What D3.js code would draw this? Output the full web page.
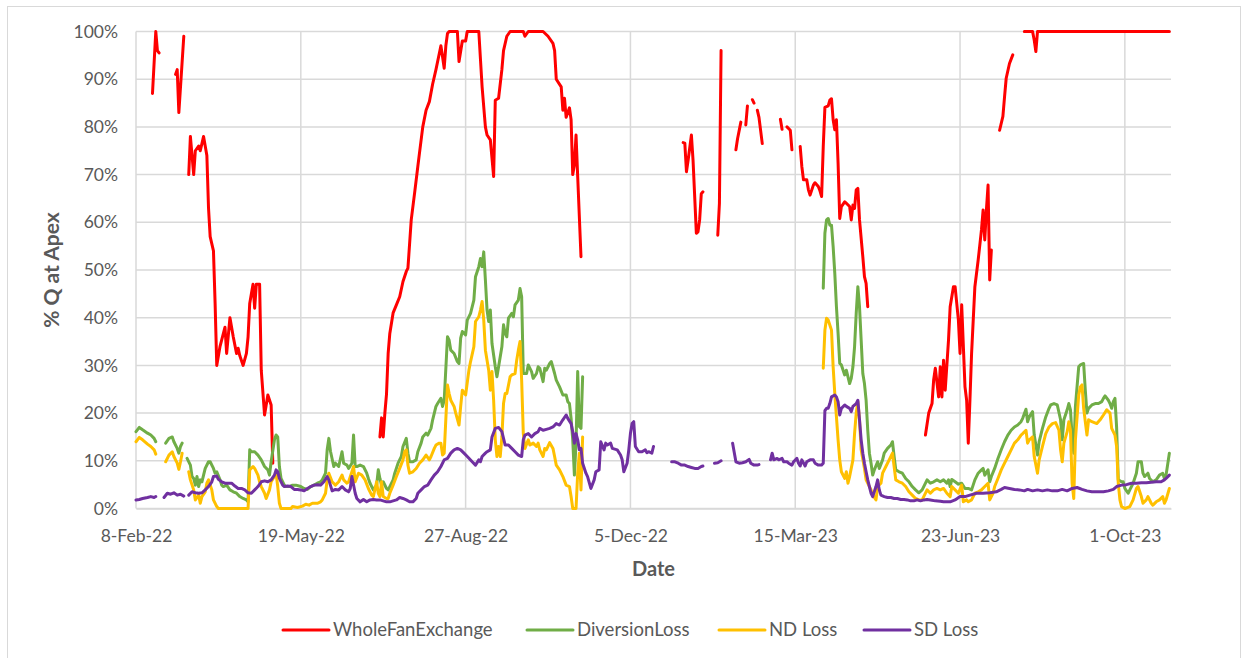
<!DOCTYPE html>
<html>
<head>
<meta charset="utf-8">
<script src="https://cdn.jsdelivr.net/npm/d3@7"></script>
<style>
  html, body { margin: 0; padding: 0; background: #fff; }
  svg { display: block; font-family: Lato, "Open Sans", sans-serif; }
</style>
</head>
<body>
<svg id="chart" width="1244" height="658"></svg>
<script>
// ---- data (day offset from 8-Feb-22, fraction of Q); null = gap ----
const startDate = "2022-02-08";
const endDay = 628;
const xTickLabels = ["8-Feb-22","19-May-22","27-Aug-22","5-Dec-22","15-Mar-23","23-Jun-23","1-Oct-23"];
const yTicks = [0,0.1,0.2,0.3,0.4,0.5,0.6,0.7,0.8,0.9,1.0];
const seriesNames = ["WholeFanExchange","DiversionLoss","ND Loss","SD Loss"];
const seriesColors = ["#FF0000","#70AD47","#FFC000","#7030A0"];

const wholeFanExchange = [
 [10,87],[12,100],[13,96],[14,95.5],null,
 [24,91],[25,92],[26,83],[29,99],null,
 [32,70],[33,78],[35,70],[36,75],[38,76],[39,75],[41,78],[43,74],[44,63],[45,57],[47,54],[48,43],[49,30],[51,34],[54,38],[55,32.5],[57,40],[59,36],[61,32.5],[62,33.6],[63,32],[65,30],[67,32.5],[68,36],[69,43],[71,47],[72,42],[73,47],[75,47],[76,29],[78,19.6],[80,23.8],[82,21.7],[83,9.5],null,
 [148,15],[149,19],[150,15],[151,20],[152,24],[153,32.5],[154,36.7],[156,41],[158,42.7],[160,44.4],[162,47.6],[164,49.7],[165,50.4],[167,60.5],[169,66],[171,71.7],[172,74.5],[174,80],[176,83.5],[178,85.3],[180,89],[182,92],[185,97],[186,94.7],[187,92.3],[188,97],[189,99.6],[190,100],[195,100],[196,93.7],[198,98],[200,98],[201,100],[208,100],[210,88.4],[212,80],[213,78.3],[215,77.3],[217,69.6],[218,85.6],[220,86],[222,92],[223,96],[225,99],[227,100],[235,100],[236,99],[238,100],[247,100],[250,99],[253,97.5],[254,96],[255,90],[258,88.4],[259,83.5],[260,86],[261,82],[263,84],[264,81.5],[265,70],[266,72],[267,78.3],[268,69.6],[270,52.8],null,
 [332,76.7],[333,76.6],[334,70.6],[335,73],[337,78.3],[338,73],[340,57.7],[341,58],[342,60.5],[343,66],[344,66.4],null,
 [353,57.3],[354,64],[355,96],null,
 [364,75.2],[365,77.5],[367,81],null,
 [370,80.4],[371,84.4],null,
 [374,85.7],[375,85],null,
 [377,83.5],[378,82],[380,76.5],null,
 [391,81.6],[392,79.5],null,
 [395,80],[397,79.3],[398,75.2],null,
 [403,75.9],[404,71.7],[405,68.9],[407,68.9],[408,66.8],[409,65.7],[411,67.8],[412,68.3],[414,67.5],[415,66.6],[416,65.4],[417,75.9],[418,84.1],[420,84.4],[421,85.6],[422,85.9],[423,81.5],[424,79.4],[425,81.5],[426,72.4],[427,60.8],[428,63.3],[430,64.3],[431,64],[433,63.3],[434,60.5],[435,63.6],[436,62.9],[437,66.8],[438,67.1],[439,60.5],[441,52.8],[442,48.6],[443,47.2],[444,42.3],null,
 [479,15.4],[481,20],[483,22],[484,27],[485,29.4],[487,23.4],[488,29.7],[489,23.4],[490,31.1],[491,24.8],[493,35.3],[494,42.3],[496,46.5],[497,46.5],[499,39.5],[500,32.5],[501,42.7],[503,25.5],[504,22.7],[505,13.7],[506,22.7],[507,32.5],[509,46.5],[511,52.1],[513,58.4],[514,62.6],[515,56.3],[516,62.6],[517,67.8],[518,47.9],[519,54.2],null,
 [524,79.3],[526,82.2],[527,86.3],[528,90.2],[530,93.3],[532,95.1],null,
 [539,100],[544,100],[545,98.2],[546,95.8],[547,100],[627,100]
];

const diversionLoss = [
 [0,16.1],[2,17],[4,16.5],[7,15.8],[9,15.4],[11,14.7],[12,14],null,
 [18,13.7],[20,14.7],[22,15],[23,14],[25,12.6],[26,11.6],[27,13],[28,13.7],null,
 [31,10.5],[33,9.1],[34,6.7],[35,6.3],[36,4.9],[37,6.7],[38,4.6],[39,6],[40,5.6],[41,7],[42,8.4],[44,9.8],[45,9.8],[47,8.4],[48,7.4],[49,7.7],[51,6],[52,4.9],[53,4.6],[55,4.9],[57,3.9],[59,3.5],[61,3.2],[63,2.5],[65,2.1],[67,1.8],[68,1.4],[69,12.3],[70,11.9],[72,11.9],[74,11.2],[76,10.2],[78,8.8],[80,8.1],[81,7],[82,9.8],[84,14.4],[85,15.4],[86,15],[87,8.8],[88,6.3],[90,4.9],[91,4.6],[93,4.6],[95,4.9],[97,4.9],[100,4.6],[102,4.2],[104,4],[106,4.6],[108,4.9],[110,5.3],[112,5.6],[113,6],[115,7.4],[116,12.3],[117,14.7],[118,12],[120,8.8],[121,9.5],[123,8.8],[125,11.9],[126,9.5],[128,9.1],[129,8.4],[131,9.5],[132,15.4],[133,8.8],[134,8.8],[136,9.1],[138,8.8],[140,7.4],[141,6.3],[142,5.3],[144,3.9],[146,4.9],[147,8.1],[148,6.3],[149,4.9],[150,5.6],[152,4.2],[153,3.9],[154,4.6],[156,6],[157,7.4],[159,9.5],[161,10.9],[162,13],[164,14.7],[165,11.6],[166,9.8],[168,9.8],[170,10.2],[171,11.9],[173,13.7],[174,15],[176,15.8],[177,15.4],[179,16.8],[180,18.6],[182,21.4],[183,22],[185,23.1],[186,21.4],[187,22.7],[189,36],[190,35.3],[191,33.2],[193,32.5],[195,30.8],[196,30.4],[197,35.7],[198,37.1],[200,36.4],[201,39.5],[203,40.9],[205,43.7],[206,48.6],[208,50.7],[209,52.4],[210,50.7],[211,53.8],[212,47.9],[213,41.6],[214,39.2],[215,41.6],[216,34.6],[218,29.7],[219,27.6],[220,29.7],[222,33.9],[223,38.5],[224,36.7],[225,36],[226,39.9],[228,40.9],[229,40.2],[230,42.7],[232,43.7],[233,46.1],[234,44.4],[235,28.3],[237,28.3],[238,30.1],[240,28.7],[241,27.3],[243,28.3],[244,29.7],[245,29.4],[247,26.6],[248,29.4],[249,29],[251,30.4],[252,30.8],[254,28.3],[255,26.9],[257,25.5],[259,23.8],[261,23.8],[262,22.4],[263,22],[264,18.9],[265,14.4],[266,7],[267,13.7],[268,28.7],[269,17.2],[270,16.8],[271,27.6],null,
 [417,46.2],[418,57.7],[419,60.5],[420,60.8],[421,59.4],[422,59.4],[423,54.9],[424,49.3],[425,42.3],[426,36.7],[427,30.4],[428,30.1],[430,28],[431,29],[433,26.2],[434,27.3],[435,29.7],[436,33.9],[437,40.9],[438,46.5],[439,42.3],[440,35.3],[441,28.3],[442,26.2],[443,22.7],[444,16.4],[445,11.6],[446,9.5],[447,7],[448,8.1],[450,9.8],[451,8.4],[453,10.2],[454,11.6],[456,12.6],[458,13.3],[459,14],[460,10.9],[461,8.1],[463,7.7],[465,7.4],[467,6.3],[469,5.6],[471,4.6],[473,3.9],[475,3.3],[477,3.9],[480,6],[482,5.3],[484,5.6],[486,6],[488,5.6],[490,6],[492,5.3],[493,6],[494,4.6],[495,6.1],[497,5.6],[499,5.1],[501,5.3],[503,4.2],[505,4.2],[507,3.9],[509,6],[511,7.4],[513,8.1],[514,8.4],[515,7],[517,8.1],[518,5.6],[519,6.7],[521,8.4],[523,10.5],[525,12.3],[527,14],[529,15.4],[531,16.4],[533,17.1],[535,17.5],[537,18.2],[538,18.9],[540,20.8],[541,18.2],[542,19.2],[544,20.3],[545,15.4],[547,11.2],[548,14],[550,16.8],[552,19.2],[554,21],[555,21.7],[557,22],[559,21.7],[561,18.6],[562,14.4],[563,18.6],[565,20.7],[566,22],[567,20.7],[568,15],[569,11.6],[570,21.4],[572,29.7],[573,30.1],[575,30.4],[576,24.8],[577,20],[578,21],[580,21.7],[582,22],[584,22],[586,22.4],[587,23.1],[588,23.6],[590,22.7],[591,22],[592,21],[593,22.4],[594,23.1],[595,17],[596,6],[598,5.6],[599,5.6],[600,4.2],[602,3.2],[603,3.9],[605,5.3],[607,7.4],[608,9.8],[610,9.8],[611,7.4],[612,6.7],[614,7.4],[615,6.3],[617,5.6],[619,6],[621,7],[623,7.4],[624,6.3],[625,7],[627,11.6]
];

const ndLoss = [
 [0,14],[2,14.9],[4,14.4],[7,13.5],[9,13],[11,12.3],[12,11.4],null,
 [18,9.8],[20,11.2],[22,11.9],[23,10.9],[25,9.5],[26,8.2],[27,9.8],[28,11.6],null,
 [32,7.7],[33,6],[35,3.9],[36,1.8],[38,2.8],[39,1.1],[40,2.5],[42,3.5],[43,5.3],[44,6],[46,3.9],[47,1.8],[49,0.4],[50,0],[68,0],[69,8.1],[71,8.8],[72,8.4],[74,7],[75,5.6],[76,4.6],[78,3.2],[79,2.1],[81,3.9],[82,5.6],[84,6.7],[85,7.4],[86,4.6],[87,1.1],[88,0],[94,0],[95,0.4],[98,0.2],[101,0.5],[103,0.9],[105,0.7],[107,1.1],[110,1.1],[112,1.4],[113,1.8],[115,3.2],[116,6],[117,7.4],[119,5.6],[121,4.9],[123,5.6],[125,7],[126,6],[128,5.3],[129,5.6],[131,7.7],[132,8.8],[133,5.6],[135,7.4],[137,7],[139,6],[141,4.2],[143,2.8],[144,2.5],[146,5.6],[147,3.2],[148,2.5],[149,5.6],[150,2.5],[152,2.1],[153,2.1],[154,3.2],[156,4.9],[158,6.7],[160,8.4],[162,10.2],[163,11.9],[164,12.3],[165,9.1],[166,7.4],[168,7.7],[170,8.4],[172,9.5],[174,10.2],[176,11.2],[178,10.2],[179,10.9],[181,12.6],[182,13.3],[184,13.7],[185,13.7],[186,11.2],[187,11.6],[189,25.9],[190,24.1],[191,22.7],[193,21.4],[194,20],[196,17.5],[197,21.4],[198,24.8],[200,23.8],[202,29],[203,30.8],[205,33.9],[206,39.2],[208,40.2],[209,41.6],[210,43.4],[211,39.5],[212,33.2],[214,29],[215,24.8],[216,28.7],[217,22.7],[218,14.4],[219,10.9],[220,13],[221,10.9],[222,15],[223,22],[224,24.1],[225,24.1],[227,27.6],[228,28],[230,28.3],[231,31.1],[232,33.2],[233,35],[234,26.9],[235,15.7],[236,12.6],[238,14.4],[239,13.3],[241,13.7],[243,13],[244,13.7],[245,12.3],[247,10.9],[248,12.6],[249,12.3],[251,13.8],[253,12.6],[254,10.9],[255,9.1],[257,8.1],[259,6.7],[261,4.9],[263,4.6],[264,2.5],[265,0],[267,0],[268,7.4],[269,11.6],[270,3.9],[271,15],null,
 [417,29.4],[418,37.4],[419,39.9],[420,39.5],[422,37.4],[423,29.7],[424,24.1],[425,19.2],[426,14.4],[427,10.2],[428,7.7],[430,6.3],[431,7.7],[432,5.3],[433,6.7],[435,10.2],[436,15.7],[437,20],[438,22.4],[439,18.6],[440,12.3],[442,8.4],[443,6],[445,4.6],[446,3.9],[447,2.8],[449,1.8],[450,4.6],[452,5.3],[453,7.4],[455,8.8],[457,10.2],[459,11.6],[460,8.8],[461,6],[463,5.6],[465,5.3],[467,4.6],[469,3.5],[471,2.8],[473,2.1],[475,1.8],[477,1.8],[480,3.9],[482,3.2],[484,3.9],[486,4.2],[488,3.9],[490,4.2],[492,3.2],[494,2.5],[495,4.6],[497,3.9],[499,3.2],[501,4.9],[502,1.4],[504,1.8],[505,1.4],[507,1.8],[509,3.2],[511,3.5],[513,3.9],[515,4.6],[517,5.3],[518,1.8],[520,3.2],[521,4.6],[523,6.3],[525,8.1],[527,9.5],[529,10.9],[531,12.3],[533,13.7],[535,14.4],[537,15.4],[538,15.7],[540,16.4],[541,13.7],[542,14.4],[544,15],[545,10.9],[547,7.4],[548,10.2],[550,13],[552,15.7],[554,17.1],[556,17.8],[558,18],[560,16.4],[561,12.3],[562,9.8],[563,13.7],[565,16.1],[566,18.2],[567,16.4],[568,5.3],[569,2.1],[570,14.4],[572,23.8],[573,25.5],[574,25.9],[575,21],[577,15.4],[578,18.6],[580,18.2],[583,17.8],[585,18.6],[587,19.6],[589,20.7],[591,20],[592,16.8],[594,15.4],[595,13],[596,5.3],[597,1.8],[598,0.4],[600,0],[603,0.4],[605,1.8],[607,4.2],[608,4.6],[610,2.5],[611,1.1],[613,1.8],[614,2.5],[616,1.1],[617,0.7],[619,1.4],[621,1.8],[623,2.5],[624,1.1],[625,1.8],[627,4.2]
];

const sdLoss = [
 [0,1.8],[2,1.9],[4,2.1],[7,2.3],[9,2.5],[11,2.3],[12,2.5],null,
 [17,2.3],[19,3.2],[21,3],[23,3.3],[25,2.8],[27,3],[29,2.6],null,
 [32,2.8],[34,3.5],[36,3.3],[38,3.2],[40,3.3],[42,3.9],[44,4.6],[46,5.6],[47,6.7],[49,6.8],[50,6.1],[52,5.6],[54,5.3],[56,5.3],[58,5.3],[60,4.7],[62,4.2],[64,4.2],[66,3.9],[68,3.3],[70,3.2],[72,3.9],[74,4.6],[76,5.6],[78,5.8],[80,5.6],[82,6],[84,7],[85,8.1],[86,7.7],[87,6.3],[89,4.9],[90,4.6],[92,4.7],[94,4.6],[96,4],[98,4],[100,3.9],[102,3.7],[104,4.2],[106,4.6],[108,4.9],[110,5],[112,4.9],[114,5.6],[116,6.7],[117,6],[119,3.7],[121,4],[123,3.9],[125,4.6],[127,3.9],[129,3.5],[130,4.2],[131,6.7],[133,3.2],[134,2.1],[136,1.4],[138,1.9],[140,1.4],[142,1.8],[144,1.9],[146,1.8],[148,1.8],[150,1.6],[152,1.4],[154,1.4],[156,1.6],[158,1.8],[160,2.3],[162,2.1],[164,1.8],[166,1.4],[168,1.4],[170,2.1],[171,3.2],[173,3.9],[175,4.6],[177,4.9],[179,6],[181,7],[183,7.7],[185,8.8],[187,10.2],[189,10.5],[191,11.6],[193,12.3],[195,12.6],[197,12.3],[199,11.6],[201,10.9],[204,9.8],[206,9.1],[208,10.2],[209,9.8],[210,10.9],[212,11.6],[213,11.9],[215,12.3],[216,15],[218,16.8],[220,17],[222,16.1],[223,14.7],[224,13.3],[226,13.3],[228,12.6],[230,11.9],[232,11.2],[234,10.9],[235,14.4],[236,15.4],[238,15.7],[240,15],[242,15.7],[244,16.1],[245,16.8],[247,16.4],[249,16.6],[251,16.8],[253,17.1],[255,17.8],[257,17.5],[259,18.6],[261,19.6],[262,18.9],[264,17.8],[265,16.1],[266,13.7],[267,15.7],[268,14.4],[269,12.3],[270,12.6],[271,9.5],[273,7.4],[274,6.7],[276,4.2],[278,6],[279,7.7],[281,8.1],[282,14],[284,12.3],[285,13.7],[286,13.3],[288,13.7],[289,12.6],[292,12.3],[294,11.2],[295,10.2],[296,7.7],[298,9.5],[299,12.3],[300,15.7],[301,17.8],[302,18.2],[303,13],[305,11.9],[307,11.9],[309,12.3],[310,11.7],[311,11.9],[313,11.6],[314,13],null,
 [325,9.8],[327,9.8],[329,9.5],[331,9.1],[333,9.1],[335,8.8],[337,8.6],[339,8.4],[341,8.4],[343,8.8],[344,8.9],null,
 [351,9.5],[353,9.6],[355,10],null,
 [362,13.7],[364,9.8],[366,9.5],[368,9.6],[370,9.8],[372,10.3],[373,9.5],[375,9.1],[377,9.1],[378,9.2],null,
 [385,10.2],[386,11.6],[387,10.2],[389,10.5],[390,10.2],[392,10.5],[393,9.8],[395,9.8],[396,9.5],[398,9.1],[399,9.8],[401,10.5],[402,9.5],[403,8.9],[404,10.2],[406,8.9],[407,9.8],[409,10.2],[411,10.2],[412,9.5],[414,9.1],[416,9.1],[417,9.5],[418,20.5],[419,21],[420,21],[421,22],[422,23.4],[424,23.8],[425,23.4],[426,22.4],[427,19.6],[428,21],[430,21.7],[431,21.4],[433,21],[434,20.3],[435,21.4],[437,22],[438,22.7],[439,18.6],[440,14.4],[441,11.6],[442,9.5],[443,7.7],[444,6],[445,4.6],[446,3.2],[447,2.5],[449,4.6],[450,6],[451,3.9],[452,2.8],[454,2.5],[456,2.3],[458,2.3],[460,2.1],[462,2.1],[464,1.9],[466,1.9],[468,1.8],[470,1.6],[472,1.6],[474,1.8],[476,1.6],[478,1.8],[480,1.9],[482,1.8],[485,1.6],[488,1.5],[490,1.4],[494,1.4],[497,1.8],[500,2.5],[503,2.5],[506,2.8],[510,3.2],[514,3.2],[518,3.3],[522,3.5],[525,4],[527,4.4],[530,4.2],[533,4],[536,3.9],[539,3.7],[541,4],[544,3.7],[547,3.9],[550,3.7],[553,3.9],[556,3.7],[559,3.7],[562,4],[565,3.7],[568,4.2],[571,4.4],[574,4],[577,3.7],[580,3.5],[583,3.5],[587,3.5],[590,3.7],[593,4],[595,4.6],[598,4.9],[601,5],[604,5.3],[607,5.3],[610,5.4],[613,5.4],[616,5.5],[619,5.6],[622,5.6],[624,6],[625,6.3],[627,7]
];

const allSeries = [wholeFanExchange, diversionLoss, ndLoss, sdLoss];

// ---- drawing ----
const svg = d3.select("#chart");
const plot = {left: 136, right: 1171, top: 31.5, bottom: 508.5};
const gridColor = "#d9d9d9";
const textColor = "#595959";
const tickFont = "17.5px";

svg.append("rect").attr("x", 7.5).attr("y", 6.5).attr("width", 1233).attr("height", 700)
  .attr("fill", "#fff").attr("stroke", gridColor).attr("stroke-width", 1);

const t0 = d3.timeParse("%Y-%m-%d")(startDate);
const toDate = d => d3.timeDay.offset(t0, d);
const parseTick = d3.timeParse("%d-%b-%y");
const xTicks = xTickLabels.map(parseTick);

const x = d3.scaleTime().domain([t0, toDate(endDay)]).range([plot.left, plot.right]);
const y = d3.scaleLinear().domain([0, 1]).range([plot.bottom, plot.top]);

// gridlines
const grid = svg.append("g");
grid.selectAll("line.h").data(yTicks).join("line")
  .attr("x1", plot.left).attr("x2", plot.right)
  .attr("y1", d => y(d)).attr("y2", d => y(d))
  .attr("stroke", gridColor).attr("stroke-width", 1.5);
grid.selectAll("line.v").data(xTicks).join("line")
  .attr("x1", d => x(d)).attr("x2", d => x(d))
  .attr("y1", plot.top).attr("y2", plot.bottom)
  .attr("stroke", gridColor).attr("stroke-width", 1.5);

// axes
const xAxis = d3.axisBottom(x).tickValues(xTicks).tickFormat(d3.timeFormat("%-d-%b-%y"))
  .tickSize(0).tickPadding(21);
const gx = svg.append("g").attr("transform", `translate(0,${plot.bottom})`).call(xAxis);
gx.select(".domain").attr("stroke", gridColor).attr("stroke-width", 1.5);
gx.selectAll("text").attr("fill", textColor).style("font-size", tickFont).style("font-family", "Lato, 'Open Sans', sans-serif");

const yAxis = d3.axisLeft(y).tickValues(yTicks).tickFormat(d3.format(".0%"))
  .tickSize(0).tickPadding(18);
const gy = svg.append("g").attr("transform", `translate(${plot.left},0)`).call(yAxis);
gy.select(".domain").remove();
gy.selectAll("text").attr("fill", textColor).style("font-size", tickFont).style("font-family", "Lato, 'Open Sans', sans-serif");

// lines
const line = d3.line()
  .defined(d => d !== null)
  .x(d => x(toDate(d[0])))
  .y(d => y(d[1] / 100));

svg.append("clipPath").attr("id", "plotclip").append("rect")
  .attr("x", plot.left - 2).attr("y", plot.top - 3)
  .attr("width", plot.right - plot.left + 4).attr("height", plot.bottom - plot.top + 5);

svg.append("g").attr("clip-path", "url(#plotclip)")
  .selectAll("path").data(allSeries).join("path")
  .attr("d", d => line(d))
  .attr("fill", "none")
  .attr("stroke", (d, i) => seriesColors[i])
  .attr("stroke-width", 3)
  .attr("stroke-linejoin", "round")
  .attr("stroke-linecap", "round");

// axis titles
svg.append("text")
  .attr("x", (plot.left + plot.right) / 2).attr("y", 576)
  .attr("text-anchor", "middle").attr("fill", textColor)
  .style("font-size", "20px").style("font-weight", "bold")
  .text("Date");
svg.append("text")
  .attr("transform", `translate(59,${(plot.top + plot.bottom) / 2}) rotate(-90)`)
  .attr("text-anchor", "middle").attr("fill", textColor)
  .style("font-size", "21px").style("font-weight", "bold")
  .text("% Q at Apex");

// legend
const legendX = [283, 527, 719, 864];
const lg = svg.append("g").selectAll("g").data(seriesNames).join("g")
  .attr("transform", (d, i) => `translate(${legendX[i]},630)`);
lg.append("line").attr("x1", 0).attr("x2", 46).attr("y1", 0).attr("y2", 0)
  .attr("stroke", (d, i) => seriesColors[i]).attr("stroke-width", 3).attr("stroke-linecap", "round");
lg.append("text").attr("x", 50).attr("y", 0).attr("dy", "0.35em")
  .attr("fill", textColor).style("font-size", "18.5px").text(d => d);
</script>
</body>
</html>
